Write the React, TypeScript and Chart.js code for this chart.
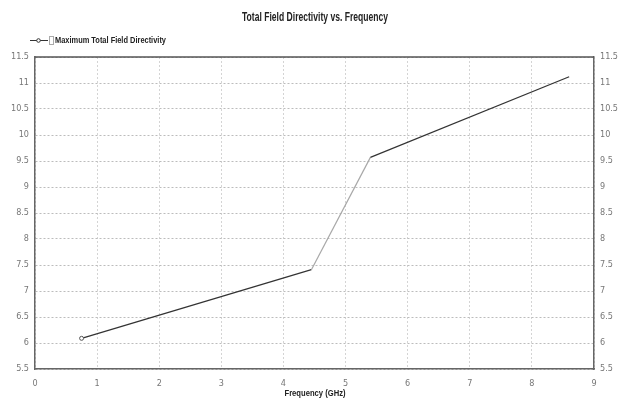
import React, { useEffect, useRef } from "react";
import { Chart, registerables } from "chart.js";

Chart.register(...registerables);

const chartTitle = "Total Field Directivity vs. Frequency";
const seriesName = "Maximum Total Field Directivity";
const xAxisTitle = "Frequency (GHz)";
const frequencies = [0.75, 4.45, 5.4, 8.6];
const directivity = [6.09, 7.41, 9.57, 11.12];
const yTicks = [5.5, 6, 6.5, 7, 7.5, 8, 8.5, 9, 9.5, 10, 10.5, 11, 11.5];
const xTicks = [0, 1, 2, 3, 4, 5, 6, 7, 8, 9];

const FONT = "'Liberation Sans', Arial, sans-serif";

function narrowText(ctx: any, text: string, x: number, y: number, width: number, align: string) {
  const w = ctx.measureText(text).width;
  const s = width / w;
  ctx.save();
  ctx.translate(x, y);
  ctx.scale(s, 1);
  ctx.textAlign = align;
  ctx.fillText(text, 0, 0);
  ctx.restore();
}

const headerPlugin = {
  id: "header",
  afterDraw(chart: any) {
    const { ctx, chartArea } = chart;
    ctx.save();
    ctx.strokeStyle = "#555";
    ctx.lineWidth = 1.5;
    ctx.beginPath();
    ctx.moveTo(chartArea.left, chartArea.top);
    ctx.lineTo(chartArea.right, chartArea.top);
    ctx.stroke();
    ctx.textBaseline = "middle";
    ctx.fillStyle = "#222";
    ctx.font = `bold 13px ${FONT}`;
    narrowText(ctx, chartTitle, 315, 17, 146, "center");
    // legend
    ctx.strokeStyle = "#333";
    ctx.lineWidth = 1;
    ctx.beginPath();
    ctx.moveTo(30, 40.5);
    ctx.lineTo(48, 40.5);
    ctx.stroke();
    ctx.fillStyle = "#fff";
    ctx.beginPath();
    ctx.arc(38.5, 40.5, 1.8, 0, Math.PI * 2);
    ctx.fill();
    ctx.stroke();
    ctx.strokeStyle = "#aaa";
    ctx.strokeRect(49.5, 36.5, 4, 8);
    ctx.fillStyle = "#222";
    ctx.font = `bold 9px ${FONT}`;
    narrowText(ctx, seriesName, 55, 41, 111, "left");
    // x axis title
    ctx.font = `bold 9px ${FONT}`;
    narrowText(ctx, xAxisTitle, 315, 394, 61, "center");
    ctx.restore();
  },
};

export default function App() {
  const ref = useRef<HTMLCanvasElement>(null);
  useEffect(() => {
    document.body.style.margin = "0";
    const tickFont = { family: "'DejaVu Sans Condensed', sans-serif", size: 9 };
    const fmt = (v: any) => String(v);
    const chart = new Chart(ref.current!, {
      type: "line",
      data: {
        datasets: [
          {
            label: seriesName,
            data: frequencies.map((x, i) => ({ x, y: directivity[i] })),
            borderColor: "#333",
            borderWidth: 1.2,
            pointRadius: [2, 0, 0, 0],
            pointBackgroundColor: "#fff",
            pointBorderColor: "#555",
            pointBorderWidth: 1,
            tension: 0,
            segment: {
              borderColor: (c: any) => (c.p0DataIndex === 1 ? "#a8a8a8" : "#333"),
            },
          },
        ],
      },
      plugins: [headerPlugin],
      options: {
        animation: false,
        responsive: false,
        layout: { padding: { top: 57, left: 0, right: 0, bottom: 0 } },
        plugins: { legend: { display: false }, title: { display: false }, tooltip: { enabled: false } },
        scales: {
          x: {
            type: "linear",
            min: 0,
            max: 9,
            afterBuildTicks: (s: any) => { s.ticks = xTicks.map((v) => ({ value: v })); },
            afterFit: (s: any) => { s.height = 31; },
            ticks: { font: tickFont, color: "#777", padding: 9, maxRotation: 0, callback: fmt },
            grid: { color: "#d4d4d4", lineWidth: 1, drawTicks: false },
            border: { color: "#666", width: 1.5, dash: [2, 2] },
          },
          y: {
            type: "linear",
            position: "left",
            min: 5.5,
            max: 11.5,
            afterBuildTicks: (s: any) => { s.ticks = yTicks.map((v) => ({ value: v })); },
            afterFit: (s: any) => { s.width = 35; },
            ticks: { font: tickFont, color: "#777", padding: 6, callback: fmt },
            grid: { color: "#bcbcbc", lineWidth: 1, drawTicks: false },
            border: { color: "#666", width: 1.5, dash: [2, 2] },
          },
          y2: {
            type: "linear",
            position: "right",
            min: 5.5,
            max: 11.5,
            afterBuildTicks: (s: any) => { s.ticks = yTicks.map((v) => ({ value: v })); },
            afterFit: (s: any) => { s.width = 35; },
            ticks: { font: tickFont, color: "#777", padding: 6, callback: fmt },
            grid: { display: false, drawTicks: false },
            border: { color: "#666", width: 1.5 },
          },
        },
      } as any,
    });
    return () => chart.destroy();
  }, []);
  return (
    <div style={{ width: 629, height: 400 }}>
      <canvas ref={ref} width={629} height={400} style={{ width: 629, height: 400 }} />
    </div>
  );
}
